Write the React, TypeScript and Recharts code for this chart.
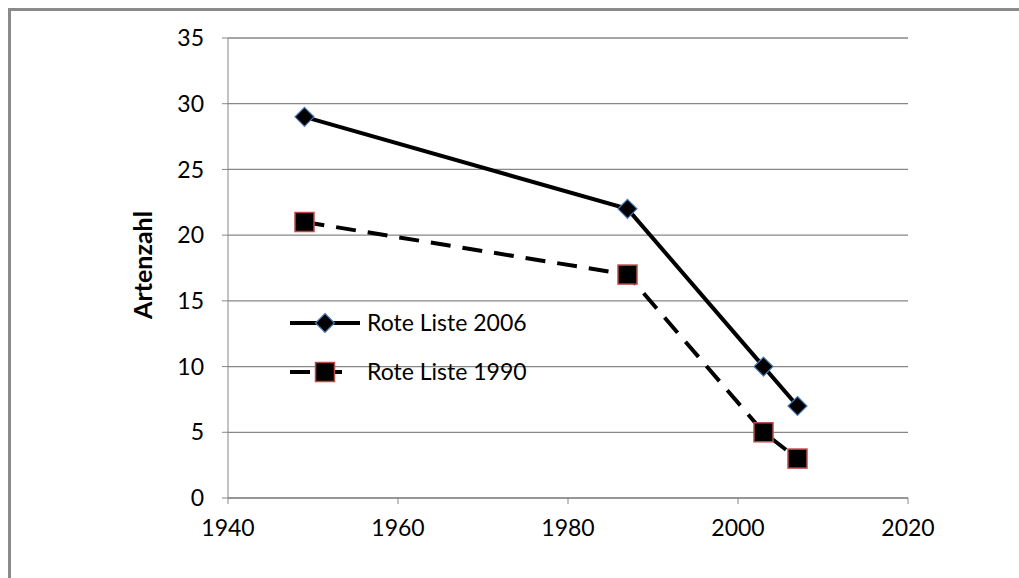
import React from "react";
import { LineChart, Line, XAxis, YAxis, CartesianGrid } from "recharts";

const years = [1949, 1987, 2003, 2007];
const roteListe2006 = [29, 22, 10, 7];
const roteListe1990 = [21, 17, 5, 3];
const xTicks = [1940, 1960, 1980, 2000, 2020];
const yTicks = [0, 5, 10, 15, 20, 25, 30, 35];

const data = years.map((year, i) => ({ year, rl2006: roteListe2006[i], rl1990: roteListe1990[i] }));

const FONT = "Lato, 'Open Sans', sans-serif";
const AXIS = "#878787";
const FS = 23;

const Diamond = (props: any) => {
  const { cx, cy } = props;
  if (cx == null || cy == null) return null;
  const r = 9.5;
  return (
    <polygon
      points={`${cx},${cy - r} ${cx + r},${cy} ${cx},${cy + r} ${cx - r},${cy}`}
      fill="#000"
      stroke="#4a7ebb"
      strokeWidth={1.2}
    />
  );
};

const Square = (props: any) => {
  const { cx, cy } = props;
  if (cx == null || cy == null) return null;
  const s = 19;
  return <rect x={cx - s / 2} y={cy - s / 2} width={s} height={s} fill="#000" stroke="#be4b48" strokeWidth={1.5} />;
};

// legend sits inside the plot, drawn as an overlay
const LegendBox = () => (
  <svg width={280} height={90} style={{ position: "absolute", left: 285, top: 305, fontFamily: FONT }}>
    <line x1={5} y1={18} x2={75} y2={18} stroke="#000" strokeWidth={4} />
    <Diamond cx={40} cy={18} />
    <text x={82} y={26} fontSize={FS} fill="#000">Rote Liste 2006</text>
    <line x1={5} y1={67} x2={60} y2={67} stroke="#000" strokeWidth={4} strokeDasharray="20 12" />
    <Square cx={40} cy={67} />
    <text x={82} y={75} fontSize={FS} fill="#000">Rote Liste 1990</text>
  </svg>
);

export default function App() {
  return (
    <div style={{ position: "absolute", left: 0, top: 0, width: 1019, height: 578, background: "#fff", overflow: "hidden" }}>
      <div style={{ position: "absolute", left: 8, top: 8, width: 1100, height: 700, borderTop: "3px solid #8a8a8a", borderLeft: "3px solid #8a8a8a" }} />
      <LineChart
        width={1019}
        height={578}
        data={data}
        margin={{ top: 38, right: 111, bottom: 0, left: 0 }}
        style={{ position: "absolute", left: 0, top: 0, fontFamily: FONT }}
      >
        <CartesianGrid vertical={false} stroke={AXIS} strokeWidth={1.3} />
        <XAxis
          dataKey="year"
          type="number"
          domain={[1940, 2020]}
          ticks={xTicks}
          height={80}
          stroke={AXIS}
          tickSize={6}
          tickMargin={16}
          tick={{ fill: "#000", fontSize: FS }}
        />
        <YAxis
          type="number"
          domain={[0, 35]}
          ticks={yTicks}
          width={228}
          stroke={AXIS}
          tickSize={6}
          tickMargin={18}
          tick={{ fill: "#000", fontSize: FS }}
          label={{ value: "Artenzahl", angle: -90, position: "center", dx: 29, dy: -3, fill: "#000", fontSize: 25, fontWeight: 700 }}
        />
        <Line
          dataKey="rl2006"
          name="Rote Liste 2006"
          stroke="#000"
          strokeWidth={4}
          dot={<Diamond />}
          activeDot={false}
          isAnimationActive={false}
        />
        <Line
          dataKey="rl1990"
          name="Rote Liste 1990"
          stroke="#000"
          strokeWidth={4}
          strokeDasharray="20 12"
          dot={<Square />}
          activeDot={false}
          isAnimationActive={false}
        />
      </LineChart>
      <LegendBox />
    </div>
  );
}
